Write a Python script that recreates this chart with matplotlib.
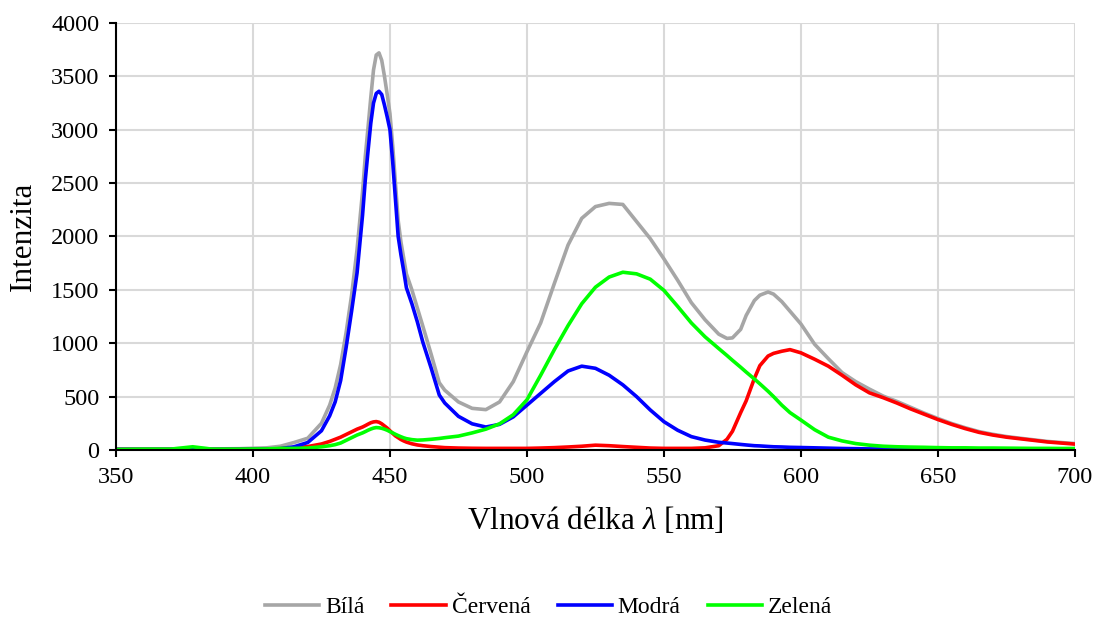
import matplotlib
matplotlib.use("Agg")
import matplotlib.pyplot as plt

plt.rcParams['font.family'] = ['Liberation Serif', 'DejaVu Serif']
plt.rcParams['mathtext.fontset'] = 'custom'
plt.rcParams['mathtext.rm'] = 'Liberation Serif'
plt.rcParams['mathtext.it'] = 'Liberation Serif:italic'

# wavelength grid (nm), denser around the peaks
wl = [350, 360, 370, 378, 385, 395, 405, 410, 415, 420,
      425, 428, 430, 432, 434, 436, 438, 440, 441, 442, 443, 444, 445, 446, 447, 448,
      449, 450, 451, 452, 453, 454, 455, 456, 458, 460, 462, 465, 468, 470, 475,
      480, 485, 490, 495, 500, 505, 510, 515, 520, 525, 530, 535, 540, 545, 550, 555,
      560, 565, 570,
      573, 575, 578, 580, 583, 585, 588, 590, 593, 596,
      600, 605, 610, 615, 620, 625, 630, 635, 640, 645, 650, 655, 660, 665, 670, 675,
      680, 685, 690, 695, 700]

bila = [10, 10, 10, 15, 10, 12, 20, 35, 70, 110,
        250, 420, 580, 800, 1100, 1450, 1880, 2420, 2750, 3020, 3300, 3560, 3700, 3720, 3650, 3500,
        3330, 3150, 2850, 2500, 2150, 1950, 1800, 1650, 1500, 1330, 1160, 900, 630, 560, 450,
        390, 378, 450, 640, 920, 1190, 1560, 1920, 2170, 2280, 2310, 2300, 2140, 1980, 1790, 1590,
        1380, 1220, 1085,
        1045, 1050, 1130, 1260, 1400, 1450, 1480, 1460, 1390, 1300,
        1180, 990, 855, 725, 640, 570, 505, 455, 400, 345, 295, 248, 208, 172, 147, 126,
        110, 95, 80, 70, 60]

cervena = [5, 5, 5, 5, 5, 6, 8, 12, 20, 32,
           56, 80, 100, 120, 145, 170, 195, 215, 228, 242, 255, 263, 266, 260, 245, 225,
           205, 180, 155, 132, 115, 98, 85, 74, 58, 47, 40, 32, 26, 22, 18,
           16, 15, 15, 15, 15, 18, 22, 28, 35, 45, 40, 32, 25, 18, 15, 15,
           15, 20, 40,
           100, 175, 350, 460, 670, 790, 880, 905, 925, 940,
           910, 850, 785, 700, 610, 535, 490, 440, 385, 335, 285, 240, 200, 165, 140, 120,
           105, 90, 75, 65, 55]

modra = [5, 5, 5, 6, 5, 6, 8, 12, 30, 70,
         180, 320, 450, 650, 960, 1300, 1660, 2200, 2530, 2800, 3060, 3250, 3340, 3360, 3330, 3230,
         3120, 3000, 2700, 2350, 2000, 1830, 1680, 1520, 1370, 1200, 1010, 770, 515, 440, 315,
         245, 215, 240, 310, 420, 530, 640, 740, 785, 765, 700, 610, 500, 375, 265, 185,
         125, 93, 72,
         65, 60, 52, 47, 40, 38, 33, 30, 28, 25,
         23, 20, 17, 14, 12, 10, 10, 9, 9, 8, 8, 8, 7, 7, 7, 6,
         6, 6, 5, 5, 5]

zelena = [5, 8, 8, 30, 8, 8, 10, 15, 15, 18,
          30, 40, 50, 65, 90, 115, 140, 160, 172, 185, 196, 205, 210, 208, 203, 195,
          185, 172, 160, 147, 135, 124, 114, 106, 97, 92, 94, 100, 108, 115, 130,
          160, 195, 245, 330, 470, 700, 940, 1165, 1370, 1525, 1620, 1665, 1650, 1600, 1495, 1345,
          1190, 1060, 950,
          885, 840, 775, 730, 665, 620, 550, 500, 420, 350,
          280, 190, 120, 85, 60, 45, 35, 30, 27, 25, 22, 20, 20, 18, 18, 17,
          16, 15, 15, 14, 14]

series = [("Bílá", bila, "#a6a6a6"),
          ("Červená", cervena, "#ff0000"),
          ("Modrá", modra, "#0000ff"),
          ("Zelená", zelena, "#00ff00")]

fig = plt.figure(figsize=(10.97, 6.21), dpi=100)
ax = fig.add_axes([0.1057, 0.2754, 0.8742, 0.6876])

for name, vals, col in series:
    ax.plot(wl, vals, color=col, lw=2.6, label=name, solid_joinstyle='round')

ax.set_xlim(350, 700)
ax.set_ylim(0, 4000)
ax.set_xticks(range(350, 701, 50))
ax.set_yticks(range(0, 4001, 500))
ax.grid(True, color='#d9d9d9', lw=1.5)
ax.set_axisbelow(True)

for s in ('top', 'right'):
    ax.spines[s].set_visible(False)
for s in ('left', 'bottom'):
    ax.spines[s].set_linewidth(1.5)
ax.tick_params(axis='both', direction='out', length=5, width=1.5, labelsize=17.5)
ax.tick_params(axis='y', pad=7)
ax.tick_params(axis='x', pad=7)

ax.set_xlabel(r"Vlnová délka $\lambda$ [nm]", fontsize=22.5, va='center')
ax.set_ylabel("Intenzita", fontsize=22.5, va='center')
ax.xaxis.set_label_coords(0.5, -0.164)
ax.yaxis.set_label_coords(-0.097, 0.5)

fig.legend(loc='center', bbox_to_anchor=(0.5, 1 - 607 / 621), ncol=4, frameon=False,
           fontsize=17, handlelength=2.3, handletextpad=0.25, columnspacing=1.15)

fig.savefig("out.png", dpi=100)
